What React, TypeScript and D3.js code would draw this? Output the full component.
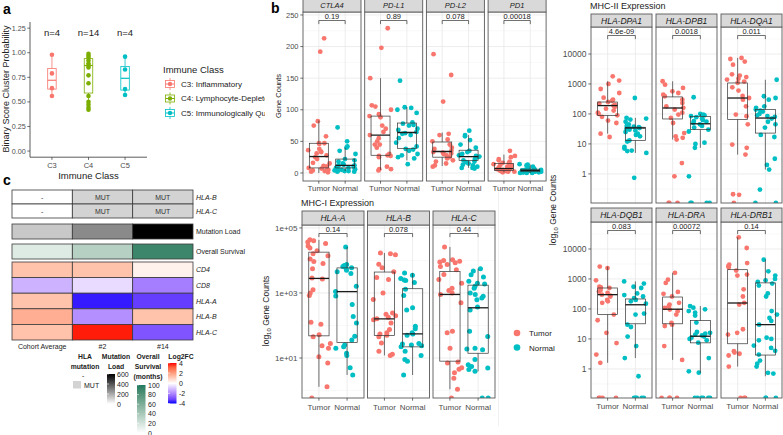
import React from "react";
import * as d3 from "d3";

const FONT = "'Liberation Sans', Arial, Helvetica, sans-serif";
const TUMOR_COL = "#F8766D";
const NORMAL_COL = "#00BFC4";
const AXIS_TXT = "#4d4d4d";
const BORDER = "#5a5a5a";

// ===================== Panel a data =====================
const immuneClasses = ["C3", "C4", "C5"];
const immuneLegend = ["C3: Inflammatory", "C4: Lymphocyte-Depleted", "C5: Immunologically Quiet"];
const immuneColors = ["#F8766D", "#7CAE00", "#00BFC4"];
const immuneN = ["n=4", "n=14", "n=4"];
const probC3 = [0.98, 0.79, 0.64, 0.56];
const probC4 = [0.99, 0.97, 0.95, 0.92, 0.89, 0.87, 0.85, 0.77, 0.69, 0.56, 0.5, 0.47, 0.44, 0.42];
const probC5 = [0.96, 0.83, 0.63, 0.57];
const boxC3 = [0.56, 0.63, 0.72, 0.84, 0.98];
const boxC4 = [0.42, 0.59, 0.87, 0.94, 0.99];
const boxC5 = [0.57, 0.62, 0.74, 0.86, 0.96];
const probTicks = [0, 0.25, 0.5, 0.75, 1, 1.25];

// ===================== Panel c data =====================
const hmColumns = ["Cohort Average", "#2", "#14"];
const hlaBMutation = ["-", "MUT", "MUT"];
const hlaCMutation = ["-", "MUT", "MUT"];
const mutationLoad = [130, 275, 600];
const overallSurvival = [15, 34, 90];
const hmGenes = ["CD4", "CD8", "HLA-A", "HLA-B", "HLA-C"];
const fcCD4 = [1.3, 1.3, 0.3];
const fcCD8 = [-1.3, -0.6, -2.2];
const fcHLAA = [1.3, -3.8, -3.3];
const fcHLAB = [1.7, -1.9, 1.3];
const fcHLAC = [1.3, 3.9, -2.9];
const mutLoadTicks = [0, 200, 400, 600];
const survivalTicks = [0, 20, 40, 60, 80, 100];
const fcTicks = [-4, -2, 0, 2, 4];

// ===================== Panel b data (gene counts) =====================
const topGenes = ["CTLA4", "PD-L1", "PD-L2", "PD1"];
const topP = ["0.19", "0.89", "0.078", "0.00018"];
const ctla4Tumor = [213, 192, 82, 75, 58, 47, 47, 46, 38, 36, 34, 33, 31, 28, 25, 22, 16, 15, 11, 10, 10, 8, 7, 5, 4, 3, 2, 1];
const ctla4Normal = [72, 50, 42, 40, 35, 30, 22, 20, 18, 15, 13, 12, 12, 10, 10, 8, 8, 6, 5, 5, 4, 4, 3, 3, 2, 2];
const ctla4TumorBox = [0, 8, 26, 47, 83];
const ctla4NormalBox = [3, 8, 12, 22, 40];
const pdl1Tumor = [229, 198, 150, 107, 105, 100, 93, 90, 88, 75, 70, 65, 60, 55, 50, 45, 45, 40, 30, 28, 27, 27, 25, 10, 6, 6, 4];
const pdl1Normal = [146, 104, 103, 100, 95, 80, 78, 76, 75, 70, 68, 65, 63, 62, 60, 55, 48, 42, 38, 37, 35, 30, 28, 25, 23, 14];
const pdl1TumorBox = [5, 28, 60, 90, 150];
const pdl1NormalBox = [20, 39, 64, 79, 104];
const pdl2Tumor = [188, 155, 113, 62, 60, 53, 50, 45, 40, 38, 35, 33, 32, 31, 30, 28, 25, 23, 20, 18, 15, 12, 10];
const pdl2Normal = [67, 60, 58, 52, 45, 40, 35, 33, 30, 28, 27, 26, 25, 22, 20, 18, 17, 15, 13, 12, 10, 8, 8, 7];
const pdl2TumorBox = [11, 25, 34, 49, 64];
const pdl2NormalBox = [8, 20, 26, 36, 60];
const pd1Tumor = [35, 27, 25, 22, 20, 18, 16, 15, 14, 13, 12, 10, 10, 9, 8, 8, 7, 6, 5, 5, 4, 4, 3, 3, 2, 2, 1];
const pd1Normal = [14, 13, 12, 10, 8, 7, 6, 5, 5, 4, 4, 3, 3, 3, 2, 2, 2, 1, 1, 1, 0, 0, 0];
const pd1TumorBox = [1, 4, 7, 15, 29];
const pd1NormalBox = [0, 2, 4, 6, 13];
const topTicks = [0, 50, 100, 150, 200, 250];
const topMinor = [25, 75, 125, 175, 225];

// MHC-I
const mhc1Genes = ["HLA-A", "HLA-B", "HLA-C"];
const mhc1P = ["0.14", "0.078", "0.44"];
const hlaATumor = [43000, 40000, 37000, 33000, 28000, 24000, 20000, 16000, 14000, 11000, 9300, 8000, 5600, 2900, 2700, 1250, 1000, 830, 125, 110, 52, 45, 28, 24, 20, 11, 7, 1.3, 0];
const hlaANormal = [26000, 7500, 7000, 6500, 6000, 5500, 5000, 4500, 4000, 1600, 1100, 800, 440, 190, 120, 47, 36, 25, 22, 20, 14, 12, 5, 3];
const hlaATumorBox = [1.3, 48, 2800, 18000, 43000];
const hlaANormalBox = [3, 30, 1100, 5900, 26000];
const hlaBTumor = [17000, 16000, 15000, 7600, 6000, 4500, 3000, 2600, 1000, 630, 240, 220, 200, 180, 160, 150, 120, 75, 60, 55, 50, 45, 29, 16, 13, 12];
const hlaBNormal = [4100, 3500, 2800, 2500, 2400, 2100, 1300, 830, 350, 300, 95, 80, 60, 55, 50, 28, 27, 25, 24, 22, 16, 12, 9, 8, 3];
const hlaBTumorBox = [12, 49, 160, 4400, 17000];
const hlaBNormalBox = [3, 22, 55, 1350, 4100];
const hlaCTumor = [26000, 10500, 10000, 9500, 9000, 8500, 7500, 6500, 5200, 3700, 2600, 2000, 1400, 1200, 1000, 900, 500, 66, 60, 20, 7.5, 7, 5, 4.5, 3.5, 2.4, 1.1, 0];
const hlaCNormal = [5600, 4700, 3600, 3100, 2300, 2000, 1900, 1600, 1400, 1000, 890, 790, 700, 620, 370, 300, 66, 46, 20, 19, 18, 9, 6.2, 5.5, 4.9, 4.4, 3.9, 0, 0];
const hlaCTumorBox = [1.1, 8, 900, 4600, 26000];
const hlaCNormalBox = [3.9, 14, 350, 1740, 5600];
const mhc1Ticks = [10, 1000, 100000];
const mhc1TickLabels = ["1e+01", "1e+03", "1e+05"];
const mhc1Minor = [1, 100, 10000];

// MHC-II
const mhc2Genes = ["HLA-DPA1", "HLA-DPB1", "HLA-DQA1", "HLA-DQB1", "HLA-DRA", "HLA-DRB1"];
const mhc2P = ["4.6e-09", "0.0018", "0.011", "0.083", "0.00072", "0.14"];
const dpa1Tumor = [1800, 1300, 1000, 680, 500, 350, 300, 280, 250, 220, 200, 190, 170, 150, 130, 110, 100, 90, 80, 60, 50, 22, 17];
const dpa1Normal = [340, 74, 70, 65, 55, 45, 40, 38, 36, 34, 33, 32, 30, 28, 25, 22, 20, 18, 13, 12, 8, 7, 6, 5.8, 5, 0.74];
const dpa1TumorBox = [22, 88, 190, 250, 1230];
const dpa1NormalBox = [5, 13, 34, 36, 74];
const dpb1Tumor = [1230, 950, 740, 570, 500, 440, 390, 300, 230, 180, 160, 140, 110, 95, 74, 50, 23, 18, 16, 14, 2.3, 0.83, 0, 0, 0];
const dpb1Normal = [360, 100, 95, 90, 85, 78, 70, 62, 58, 55, 50, 45, 40, 35, 30, 26, 11, 10, 7.4, 0.83, 0, 0, 0, 0];
const dpb1TumorBox = [14, 68, 158, 370, 1230];
const dpb1NormalBox = [7.4, 30, 47, 83, 100];
const dqa1Tumor = [7400, 6800, 5600, 4400, 2100, 1900, 1700, 1500, 1400, 1200, 1100, 770, 600, 400, 340, 300, 180, 95, 84, 45, 9.5, 7.4, 4.4, 0.21, 0.2, 0];
const dqa1Normal = [1380, 390, 340, 300, 180, 160, 140, 130, 120, 100, 90, 85, 80, 70, 55, 45, 35, 20, 17, 3.2, 2, 1.4, 0.3, 0, 0];
const dqa1TumorBox = [4.4, 65, 340, 1080, 7400];
const dqa1NormalBox = [1.4, 23, 73, 140, 1380];
const dqb1Tumor = [2600, 2300, 900, 550, 520, 500, 430, 380, 340, 300, 280, 260, 200, 180, 160, 65, 42, 16, 7.3, 3, 1.6, 0, 0, 0, 0];
const dqb1Normal = [830, 700, 550, 500, 330, 290, 260, 230, 200, 180, 150, 70, 65, 30, 25, 12, 5.8, 2.3, 0.57, 0, 0, 0, 0, 0];
const dqb1TumorBox = [1.6, 65, 300, 500, 2600];
const dqb1NormalBox = [2.3, 32, 138, 215, 830];
const draTumor = [1600, 950, 740, 370, 320, 260, 160, 140, 123, 108, 95, 84, 65, 34, 30, 27, 5.8, 2, 0, 0, 0, 0];
const draNormal = [125, 110, 97, 85, 75, 60, 35, 17, 16, 15, 14, 13, 12, 11, 10, 9, 7.5, 2.3, 0.83, 0.75, 0, 0, 0, 0, 0, 0];
const draTumorBox = [2, 32, 98, 250, 1600];
const draNormalBox = [0.74, 7.4, 12.3, 41, 125];
const drb1Tumor = [24500, 10800, 3400, 3000, 2700, 2400, 1900, 1400, 1300, 450, 260, 160, 140, 21, 16, 14, 3.9, 3.5, 3.2, 2.8, 1.2, 0, 0, 0];
const drb1Normal = [4400, 1800, 1300, 1000, 900, 800, 700, 600, 330, 260, 85, 65, 50, 40, 30, 11, 10, 9, 6, 5, 4, 3, 1.9, 1.5, 1.2, 0.74, 0.7, 0, 0, 0];
const drb1TumorBox = [1.2, 6.9, 158, 2040, 24500];
const drb1NormalBox = [0.57, 2.9, 30, 740, 4400];
const mhc2Ticks = [1, 10, 100, 1000, 10000];
const mhc2TickLabels = ["1", "10", "100", "1000", "10000"];
const mhc2Minor = [-0.5, 0.5, 1.5, 2.5, 3.5, 4.5].map((e) => Math.pow(10, e));

type FacetDef = { gene: string; p: string; tumor: number[]; normal: number[]; tBox: number[]; nBox: number[] };

const topRow: FacetDef[] = [
  { gene: topGenes[0], p: topP[0], tumor: ctla4Tumor, normal: ctla4Normal, tBox: ctla4TumorBox, nBox: ctla4NormalBox },
  { gene: topGenes[1], p: topP[1], tumor: pdl1Tumor, normal: pdl1Normal, tBox: pdl1TumorBox, nBox: pdl1NormalBox },
  { gene: topGenes[2], p: topP[2], tumor: pdl2Tumor, normal: pdl2Normal, tBox: pdl2TumorBox, nBox: pdl2NormalBox },
  { gene: topGenes[3], p: topP[3], tumor: pd1Tumor, normal: pd1Normal, tBox: pd1TumorBox, nBox: pd1NormalBox },
];
const mhc1Row: FacetDef[] = [
  { gene: mhc1Genes[0], p: mhc1P[0], tumor: hlaATumor, normal: hlaANormal, tBox: hlaATumorBox, nBox: hlaANormalBox },
  { gene: mhc1Genes[1], p: mhc1P[1], tumor: hlaBTumor, normal: hlaBNormal, tBox: hlaBTumorBox, nBox: hlaBNormalBox },
  { gene: mhc1Genes[2], p: mhc1P[2], tumor: hlaCTumor, normal: hlaCNormal, tBox: hlaCTumorBox, nBox: hlaCNormalBox },
];
const mhc2Top: FacetDef[] = [
  { gene: mhc2Genes[0], p: mhc2P[0], tumor: dpa1Tumor, normal: dpa1Normal, tBox: dpa1TumorBox, nBox: dpa1NormalBox },
  { gene: mhc2Genes[1], p: mhc2P[1], tumor: dpb1Tumor, normal: dpb1Normal, tBox: dpb1TumorBox, nBox: dpb1NormalBox },
  { gene: mhc2Genes[2], p: mhc2P[2], tumor: dqa1Tumor, normal: dqa1Normal, tBox: dqa1TumorBox, nBox: dqa1NormalBox },
];
const mhc2Bot: FacetDef[] = [
  { gene: mhc2Genes[3], p: mhc2P[3], tumor: dqb1Tumor, normal: dqb1Normal, tBox: dqb1TumorBox, nBox: dqb1NormalBox },
  { gene: mhc2Genes[4], p: mhc2P[4], tumor: draTumor, normal: draNormal, tBox: draTumorBox, nBox: draNormalBox },
  { gene: mhc2Genes[5], p: mhc2P[5], tumor: drb1Tumor, normal: drb1Normal, tBox: drb1TumorBox, nBox: drb1NormalBox },
];

// deterministic jitter (position only)
const jitter = (i: number, seed: number) => {
  const v = Math.sin((i + 1) * 12.9898 + seed * 78.233) * 43758.5453;
  return (v - Math.floor(v)) * 2 - 1;
};

interface FacetProps {
  f: FacetDef;
  x0: number;
  w: number;
  stripTop: number;
  stripH: number;
  bottom: number;
  y: any;
  log: boolean;
  major: number[];
  minor: number[];
  tickLabels: string[] | null;
  stripFont: number;
  tickFont: number;
  xLabDy: number;
  showX: boolean;
  seed: number;
  r: number;
}

function Facet(props: FacetProps) {
  const { f, x0, w, stripTop, stripH, bottom, y, log, major, minor, tickLabels, stripFont, tickFont, xLabDy, showX, seed, r } = props;
  const top = stripTop + stripH;
  const xs = d3.scalePoint<string>().domain(["Tumor", "Normal"]).range([x0, x0 + w]).padding(0.6);
  const step = xs.step();
  const bw = step * 0.72;
  const yv = (v: number) => (log && v <= 0 ? bottom : y(v));
  const clipId = "clip-" + f.gene.replace(/[^A-Za-z0-9]/g, "");
  const groups = [
    { k: "Tumor", pts: f.tumor, box: f.tBox, col: TUMOR_COL, s: seed },
    { k: "Normal", pts: f.normal, box: f.nBox, col: NORMAL_COL, s: seed + 37 },
  ];
  const bY = top + 8.5;
  return (
    <g>
      <defs>
        <clipPath id={clipId}>
          <rect x={x0} y={top} width={w} height={bottom - top} />
        </clipPath>
      </defs>
      <rect x={x0} y={top} width={w} height={bottom - top} fill="#fff" />
      <g clipPath={`url(#${clipId})`}>
        {minor.map((t, i) => (
          <line key={"mn" + i} x1={x0} x2={x0 + w} y1={y(t)} y2={y(t)} stroke="#f3f3f3" strokeWidth={0.5} />
        ))}
        {major.map((t, i) => (
          <line key={"mj" + i} x1={x0} x2={x0 + w} y1={y(t)} y2={y(t)} stroke="#e8e8e8" strokeWidth={0.8} />
        ))}
        {["Tumor", "Normal"].map((k) => (
          <line key={"vx" + k} x1={xs(k)} x2={xs(k)} y1={top} y2={bottom} stroke="#e8e8e8" strokeWidth={0.8} />
        ))}
        {groups.map((g) =>
          g.pts.map((v, i) => (
            <circle key={g.k + i} cx={(xs(g.k) as number) + jitter(i, g.s) * step * 0.42} cy={yv(v)} r={r} fill={g.col} />
          ))
        )}
        {groups.map((g) => {
          const cx = xs(g.k) as number;
          const [lo, q1, med, q3, hi] = g.box;
          return (
            <g key={"box" + g.k}>
              <line x1={cx} x2={cx} y1={yv(hi)} y2={yv(q3)} stroke="#333" strokeWidth={0.7} />
              <line x1={cx} x2={cx} y1={yv(q1)} y2={yv(lo)} stroke="#333" strokeWidth={0.7} />
              <rect x={cx - bw / 2} y={yv(q3)} width={bw} height={yv(q1) - yv(q3)} fill="none" stroke="#333" strokeWidth={0.7} />
              <line x1={cx - bw / 2} x2={cx + bw / 2} y1={yv(med)} y2={yv(med)} stroke="#1a1a1a" strokeWidth={1.3} />
            </g>
          );
        })}
      </g>
      <path
        d={`M${xs("Tumor")},${bY + 3.6}V${bY}H${xs("Normal")}V${bY + 3.6}`}
        fill="none"
        stroke="#333"
        strokeWidth={0.7}
      />
      <text x={((xs("Tumor") as number) + (xs("Normal") as number)) / 2} y={bY - 1.5} fontSize={7.5} textAnchor="middle" fill="#222">
        {f.p}
      </text>
      <rect x={x0} y={top} width={w} height={bottom - top} fill="none" stroke={BORDER} strokeWidth={0.9} />
      <rect x={x0} y={stripTop} width={w} height={stripH} fill="#d9d9d9" stroke={BORDER} strokeWidth={0.9} />
      <text x={x0 + w / 2} y={stripTop + stripH / 2 + stripFont * 0.36} fontSize={stripFont} fontStyle="italic" textAnchor="middle" fill="#1a1a1a">
        {f.gene}
      </text>
      {showX &&
        ["Tumor", "Normal"].map((k) => (
          <g key={"xt" + k}>
            <line x1={xs(k)} x2={xs(k)} y1={bottom} y2={bottom + 2.7} stroke="#333" strokeWidth={0.7} />
            <text x={xs(k)} y={bottom + xLabDy} fontSize={8} textAnchor="middle" fill={AXIS_TXT}>
              {k}
            </text>
          </g>
        ))}
      {tickLabels &&
        major.map((t, i) => (
          <g key={"yt" + i}>
            <line x1={x0 - 2.7} x2={x0} y1={y(t)} y2={y(t)} stroke="#333" strokeWidth={0.7} />
            <text x={x0 - 4.5} y={y(t) + tickFont * 0.35} fontSize={tickFont} textAnchor="end" fill={AXIS_TXT}>
              {tickLabels[i]}
            </text>
          </g>
        ))}
    </g>
  );
}

function PanelA() {
  const x = d3.scalePoint<string>().domain(immuneClasses).range([30, 147]).padding(0.6);
  const y = d3.scaleLinear().domain([-0.0625, 1.3125]).range([157.2, 22]);
  const pts = [probC3, probC4, probC5];
  const boxes = [boxC3, boxC4, boxC5];
  const bw = 8.5;
  return (
    <g clipPath="url(#clipA)">
      <defs>
        <clipPath id="clipA">
          <rect x={0} y={0} width={265} height={186} />
        </clipPath>
      </defs>
      <text x={3} y={14} fontSize={14} fontWeight="bold" fill="#000">a</text>
      <line x1={30} x2={30} y1={22} y2={157.2} stroke="#333" strokeWidth={0.8} />
      <line x1={30} x2={147} y1={157.2} y2={157.2} stroke="#333" strokeWidth={0.8} />
      {probTicks.map((t) => (
        <g key={"pt" + t}>
          <line x1={27.3} x2={30} y1={y(t)} y2={y(t)} stroke="#333" strokeWidth={0.7} />
          <text x={25.8} y={y(t) + 2.6} fontSize={7.2} textAnchor="end" fill={AXIS_TXT}>
            {t.toFixed(2)}
          </text>
        </g>
      ))}
      {immuneClasses.map((c, i) => {
        const cx = x(c) as number;
        const [lo, q1, med, q3, hi] = boxes[i];
        const col = immuneColors[i];
        return (
          <g key={c}>
            <line x1={cx} x2={cx} y1={157.2} y2={159.9} stroke="#333" strokeWidth={0.7} />
            <text x={cx} y={168} fontSize={7.5} textAnchor="middle" fill={AXIS_TXT}>
              {c}
            </text>
            <text x={cx} y={36} fontSize={9.5} textAnchor="middle" fill="#222">
              {immuneN[i]}
            </text>
            <line x1={cx} x2={cx} y1={y(hi)} y2={y(q3)} stroke={col} strokeWidth={0.8} />
            <line x1={cx} x2={cx} y1={y(q1)} y2={y(lo)} stroke={col} strokeWidth={0.8} />
            <rect x={cx - bw / 2} y={y(q3)} width={bw} height={y(q1) - y(q3)} fill="#fff" stroke={col} strokeWidth={0.8} />
            <line x1={cx - bw / 2} x2={cx + bw / 2} y1={y(med)} y2={y(med)} stroke={col} strokeWidth={1.2} />
            {pts[i].map((v, j) => (
              <circle key={j} cx={cx} cy={y(v)} r={2.3} fill={col} />
            ))}
          </g>
        );
      })}
      <text transform="translate(8.5,89) rotate(-90)" fontSize={9} textAnchor="middle" fill="#222">
        Binary Score Cluster Probability
      </text>
      <text x={88.5} y={179} fontSize={9.5} textAnchor="middle" fill="#222">
        Immune Class
      </text>
      <text x={163} y={73} fontSize={9.5} fill="#222">
        Immune Class
      </text>
      {immuneLegend.map((lab, i) => {
        const ky = 84 + i * 14.5;
        const col = immuneColors[i];
        return (
          <g key={lab}>
            <line x1={170} x2={170} y1={ky - 6} y2={ky + 6} stroke={col} strokeWidth={0.8} />
            <rect x={165.5} y={ky - 3.5} width={9} height={7} fill="#fff" stroke={col} strokeWidth={0.8} />
            <line x1={165.5} x2={174.5} y1={ky} y2={ky} stroke={col} strokeWidth={1} />
            <circle cx={170} cy={ky} r={2.2} fill={col} />
            <text x={181} y={ky + 2.8} fontSize={8} fill="#222">
              {lab}
            </text>
          </g>
        );
      })}
    </g>
  );
}

function PanelC() {
  const xb = d3.scaleBand<string>().domain(hmColumns).range([12, 193]);
  const bw = xb.bandwidth();
  const fcScale = d3.scaleLinear<string>().domain([-4, 0, 4]).range(["#0000ff", "#ffffff", "#ff0000"]).interpolate(d3.interpolateLab);
  const mlScale = d3.scaleLinear<string>().domain([0, 600]).range(["#ffffff", "#000000"]).interpolate(d3.interpolateRgb);
  const osScale = d3.scaleLinear<string>().domain([0, 100]).range(["#ffffff", "#1f7a5c"]).interpolate(d3.interpolateLab);
  const fcRows = [fcCD4, fcCD8, fcHLAA, fcHLAB, fcHLAC];
  const hmTop = 262;
  const rowH = 15.6;
  const mutRows = [hlaBMutation, hlaCMutation];
  const mutLabels = ["HLA-B", "HLA-C"];
  const stroke = "#3a3a3a";
  const mlY = d3.scaleLinear().domain([0, 600]).range([404, 374]);
  const osY = d3.scaleLinear().domain([0, 100]).range([433, 385]);
  const fcY = d3.scaleLinear().domain([-4, 4]).range([403.5, 363]);
  const gradStops = (sc: any, dom: number[]) =>
    d3.range(0, 11).map((k) => {
      const v = dom[1] - ((dom[1] - dom[0]) * k) / 10;
      return <stop key={k} offset={`${k * 10}%`} stopColor={sc(v)} />;
    });
  return (
    <g fontFamily={FONT}>
      <defs>
        <linearGradient id="gML" x1="0" y1="0" x2="0" y2="1">
          {gradStops(mlScale, [0, 600])}
        </linearGradient>
        <linearGradient id="gOS" x1="0" y1="0" x2="0" y2="1">
          {gradStops(osScale, [0, 100])}
        </linearGradient>
        <linearGradient id="gFC" x1="0" y1="0" x2="0" y2="1">
          {gradStops(fcScale, [-4, 4])}
        </linearGradient>
      </defs>
      <text x={3} y={185} fontSize={14} fontWeight="bold" fill="#000">c</text>
      {mutRows.map((row, r) => (
        <g key={"mr" + r}>
          {row.map((v, i) => (
            <g key={i}>
              <rect x={xb(hmColumns[i])} y={190 + r * 14} width={bw} height={14} fill={v === "MUT" ? "#d3d3d3" : "#ffffff"} stroke={stroke} strokeWidth={0.8} />
              <text x={(xb(hmColumns[i]) as number) + bw / 2} y={190 + r * 14 + 9.5} fontSize={7} textAnchor="middle" fill="#333">
                {v}
              </text>
            </g>
          ))}
          <text x={196} y={190 + r * 14 + 9.5} fontSize={7} fontStyle="italic" fill="#222">
            {mutLabels[r]}
          </text>
        </g>
      ))}
      {mutationLoad.map((v, i) => (
        <rect key={"ml" + i} x={xb(hmColumns[i])} y={224} width={bw} height={15} fill={mlScale(v)} stroke={stroke} strokeWidth={0.8} />
      ))}
      <text x={196} y={234} fontSize={7} fill="#222">Mutation Load</text>
      {overallSurvival.map((v, i) => (
        <rect key={"os" + i} x={xb(hmColumns[i])} y={244} width={bw} height={15} fill={osScale(v)} stroke={stroke} strokeWidth={0.8} />
      ))}
      <text x={196} y={254} fontSize={7} fill="#222">Overall Survival</text>
      {fcRows.map((row, r) => (
        <g key={"hm" + r}>
          {row.map((v, i) => (
            <rect key={i} x={xb(hmColumns[i])} y={hmTop + r * rowH} width={bw} height={rowH} fill={fcScale(v)} stroke={stroke} strokeWidth={0.8} />
          ))}
          <text x={196} y={hmTop + r * rowH + rowH / 2 + 2.5} fontSize={7} fontStyle="italic" fill="#222">
            {hmGenes[r]}
          </text>
        </g>
      ))}
      {hmColumns.map((c) => (
        <text key={c} x={(xb(c) as number) + bw / 2} y={349} fontSize={7} textAnchor="middle" fill="#222">
          {c}
        </text>
      ))}
      <g fontSize={6.8} fontWeight="bold" fill="#222" textAnchor="middle">
        <text x={85} y={359}>HLA</text>
        <text x={85} y={369}>mutation</text>
        <text x={116} y={359}>Mutation</text>
        <text x={116} y={369}>Load</text>
        <text x={148} y={359}>Overall</text>
        <text x={148} y={369}>Survival</text>
        <text x={148} y={379}>(months)</text>
        <text x={181} y={359}>Log2FC</text>
      </g>
      <text x={82} y={378} fontSize={7} fill="#222">-</text>
      <rect x={73} y={381} width={8} height={7.5} fill="#d3d3d3" />
      <text x={84} y={387.5} fontSize={7} fill="#222">MUT</text>
      <rect x={107} y={374} width={8} height={30} fill="url(#gML)" />
      {mutLoadTicks.map((t) => (
        <g key={"mlt" + t}>
          <line x1={107} x2={109} y1={mlY(t)} y2={mlY(t)} stroke="#fff" strokeWidth={0.6} />
          <text x={117} y={mlY(t) + 2.5} fontSize={7} fill="#222">{t}</text>
        </g>
      ))}
      <rect x={137} y={385} width={8.5} height={48} fill="url(#gOS)" />
      {survivalTicks.map((t) => (
        <g key={"ost" + t}>
          <line x1={137} x2={139} y1={osY(t)} y2={osY(t)} stroke="#fff" strokeWidth={0.6} />
          <text x={148} y={osY(t) + 2.5} fontSize={7} fill="#222">{t}</text>
        </g>
      ))}
      <rect x={168} y={363} width={8.5} height={40.5} fill="url(#gFC)" />
      {fcTicks.map((t) => (
        <g key={"fct" + t}>
          <line x1={168} x2={170} y1={fcY(t)} y2={fcY(t)} stroke="#fff" strokeWidth={0.6} />
          <text x={179} y={fcY(t) + 2.5} fontSize={7} fill="#222">{t}</text>
        </g>
      ))}
    </g>
  );
}

export default function App() {
  const yTop = d3.scaleLinear().domain([-12.7, 254.7]).range([181, 12]);
  const yMHC1 = d3.scaleLog().domain([Math.pow(10, -0.23), Math.pow(10, 5.09)]).range([398, 225]);
  const yMHC2a = d3.scaleLog().domain([Math.pow(10, -0.97), Math.pow(10, 4.9)]).range([203, 27]);
  const yMHC2b = d3.scaleLog().domain([Math.pow(10, -0.97), Math.pow(10, 4.9)]).range([398, 222]);
  return (
    <svg
      width={783}
      height={435}
      viewBox="0 0 783 435"
      style={{ position: "absolute", left: 0, top: 0, display: "block", background: "#fff" }}
      fontFamily={FONT}
    >
      <rect x={0} y={0} width={783} height={435} fill="#fff" />
      <PanelA />
      <PanelC />
      <text x={271} y={13} fontSize={14} fontWeight="bold" fill="#000">b</text>
      <line x1={498.5} x2={498.5} y1={192} y2={426} stroke="#ececec" strokeWidth={0.8} />
      {topRow.map((f, i) => (
        <Facet
          key={f.gene}
          f={f}
          x0={303 + i * 61.7}
          w={58}
          stripTop={-1}
          stripH={13}
          bottom={181}
          y={yTop}
          log={false}
          major={topTicks}
          minor={topMinor}
          tickLabels={i === 0 ? topTicks.map(String) : null}
          stripFont={7.5}
          tickFont={7.5}
          xLabDy={9.8}
          showX={true}
          seed={i * 3 + 1}
          r={2.4}
        />
      ))}
      <text transform="translate(281,96) rotate(-90)" fontSize={7.5} textAnchor="middle" fill="#222">
        Gene Counts
      </text>
      <text x={301} y={206} fontSize={9} fill="#222">MHC-I Expression</text>
      {mhc1Row.map((f, i) => (
        <Facet
          key={f.gene}
          f={f}
          x0={302 + i * 65.5}
          w={62}
          stripTop={211}
          stripH={14}
          bottom={398}
          y={yMHC1}
          log={true}
          major={mhc1Ticks}
          minor={mhc1Minor}
          tickLabels={i === 0 ? mhc1TickLabels : null}
          stripFont={8.5}
          tickFont={8}
          xLabDy={12}
          showX={true}
          seed={i * 3 + 20}
          r={2.5}
        />
      ))}
      <text transform="translate(269,311) rotate(-90)" fontSize={8.5} textAnchor="middle" fill="#222">
        log<tspan fontSize={6} dy={2}>10</tspan>
        <tspan dy={-2}> Gene Counts</tspan>
      </text>
      <circle cx={517} cy={333} r={3.3} fill={TUMOR_COL} />
      <circle cx={517} cy={347.5} r={3.3} fill={NORMAL_COL} />
      <text x={529} y={336} fontSize={8} fill="#222">Tumor</text>
      <text x={529} y={350.5} fontSize={8} fill="#222">Normal</text>
      <text x={590} y={9} fontSize={9} fill="#222">MHC-II Expression</text>
      {mhc2Top.map((f, i) => (
        <Facet
          key={f.gene}
          f={f}
          x0={591 + i * 65}
          w={61}
          stripTop={14}
          stripH={13}
          bottom={203}
          y={yMHC2a}
          log={true}
          major={mhc2Ticks}
          minor={mhc2Minor}
          tickLabels={i === 0 ? mhc2TickLabels : null}
          stripFont={8.5}
          tickFont={8.5}
          xLabDy={11}
          showX={false}
          seed={i * 3 + 40}
          r={2.4}
        />
      ))}
      {mhc2Bot.map((f, i) => (
        <Facet
          key={f.gene}
          f={f}
          x0={591 + i * 65}
          w={61}
          stripTop={208}
          stripH={14}
          bottom={398}
          y={yMHC2b}
          log={true}
          major={mhc2Ticks}
          minor={mhc2Minor}
          tickLabels={i === 0 ? mhc2TickLabels : null}
          stripFont={8.5}
          tickFont={8.5}
          xLabDy={11}
          showX={true}
          seed={i * 3 + 60}
          r={2.4}
        />
      ))}
      <text transform="translate(556,210) rotate(-90)" fontSize={8.5} textAnchor="middle" fill="#222">
        log<tspan fontSize={6} dy={2}>10</tspan>
        <tspan dy={-2}> Gene Counts</tspan>
      </text>
    </svg>
  );
}
